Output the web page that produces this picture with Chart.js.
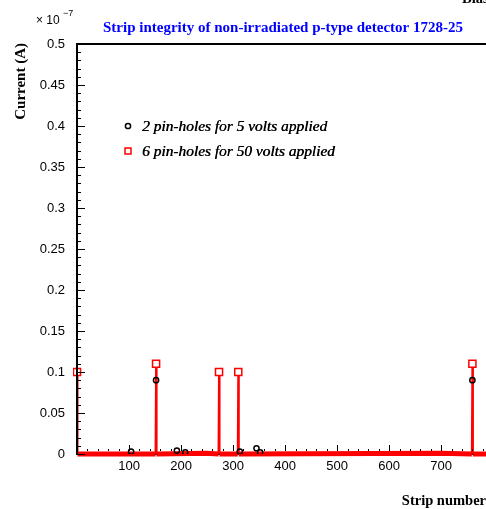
<!DOCTYPE html>
<html>
<head>
<meta charset="utf-8">
<script src="https://cdn.jsdelivr.net/npm/chart.js@4/dist/chart.umd.min.js"></script>
<style>
html,body{margin:0;padding:0;background:#fff;overflow:hidden;width:486px;height:509px;}
canvas{display:block;}
</style>
</head>
<body>
<canvas id="c" width="500" height="509"></canvas>
<script>
// ---- data (current in units of 1e-7 A) ----
const strips5V  = [104, 152, 192, 208, 313, 345, 352, 760];
const current5V = [0.003, 0.09, 0.004, 0.002, 0.003, 0.007, 0.002, 0.09];

const strips50V  = [0, 1, 151, 152, 153, 249, 272, 273, 274, 309, 310, 311, 699, 759, 760, 761, 790];
const current50V = [0.1, 0, 0, 0.11, 0, 0.001, 0, 0.1, 0, 0, 0.1, 0, 0.001, 0, 0.11, 0, 0];

const yTickValues = [0, 0.05, 0.1, 0.15, 0.2, 0.25, 0.3, 0.35, 0.4, 0.45, 0.5];
const yTickLabels = ['0', '0.05', '0.1', '0.15', '0.2', '0.25', '0.3', '0.35', '0.4', '0.45', '0.5'];
const xTickValues = [100, 200, 300, 400, 500, 600, 700];
const xTickLabels = ['100', '200', '300', '400', '500', '600', '700'];
const yMinorStep = 0.01;
const xMinorStep = 20;

const titleText = 'Strip integrity of non-irradiated p-type detector 1728-25';
const yTitle = 'Current (A)';
const xTitle = 'Strip number';
const legendLabels = ['2 pin-holes for 5 volts applied', '6 pin-holes for 50 volts applied'];

const toPts = (xs, ys) => xs.map((x, i) => ({x: x, y: ys[i]}));

const decor = {
  id: 'decor',
  afterDatasetsDraw(chart) {
    const ctx = chart.ctx, a = chart.chartArea;
    const xs = chart.scales.x, ys = chart.scales.y;
    ctx.save();
    // inner ticks
    ctx.strokeStyle = '#000';
    ctx.lineWidth = 1;
    for (let v = 0; v <= 0.5 + 1e-9; v += yMinorStep) {
      const p = Math.round(ys.getPixelForValue(v)) + 0.5;
      const major = yTickValues.some(t => Math.abs(t - v) < 1e-6);
      ctx.beginPath(); ctx.moveTo(a.left, p); ctx.lineTo(a.left + (major ? 8 : 4), p); ctx.stroke();
    }
    for (let v = xMinorStep; v <= xs.max; v += xMinorStep) {
      const p = Math.round(xs.getPixelForValue(v)) + 0.5;
      const major = xTickValues.includes(v);
      ctx.beginPath(); ctx.moveTo(p, a.bottom - 3); ctx.lineTo(p, a.bottom - (major ? 9 : 5)); ctx.stroke();
    }
    // frame
    ctx.lineWidth = 2;
    ctx.beginPath();
    ctx.moveTo(a.left, a.bottom); ctx.lineTo(a.left, a.top); ctx.lineTo(a.right, a.top); ctx.lineTo(a.right, a.bottom);
    ctx.stroke();
    // legend
    ctx.lineWidth = 1.5;
    ctx.strokeStyle = '#000';
    ctx.beginPath(); ctx.arc(128, 126, 2.6, 0, Math.PI * 2); ctx.stroke();
    ctx.strokeStyle = '#ff0000';
    ctx.fillStyle = '#fff';
    ctx.fillRect(125, 148, 6, 6); ctx.strokeRect(125, 148, 6, 6);
    ctx.fillStyle = '#000';
    ctx.font = 'italic 15.4px "Liberation Serif"';
    ctx.textBaseline = 'alphabetic';
    ctx.textAlign = 'left';
    ctx.fillText(legendLabels[0], 142, 131);
    ctx.fillText(legendLabels[1], 142, 156);
    ctx.fillText(legendLabels[0], 142.4, 131);
    ctx.fillText(legendLabels[1], 142.4, 156);
    // title
    ctx.fillStyle = '#0000ff';
    ctx.font = 'bold 15px "Liberation Serif"';
    ctx.textAlign = 'left';
    ctx.fillText(titleText, 103, 32);
    // top-right cut text
    ctx.fillStyle = '#000';
    ctx.font = 'bold 14.5px "Liberation Serif"';
    ctx.fillText('Bias voltage', 462, 3);
    // x title
    ctx.textAlign = 'right';
    ctx.fillText(xTitle, 486, 505);
    // y title rotated
    ctx.save();
    ctx.translate(25, 43);
    ctx.rotate(-Math.PI / 2);
    ctx.textAlign = 'right';
    ctx.font = 'bold 15px "Liberation Serif"';
    ctx.fillText(yTitle, 0, 0);
    ctx.restore();
    // exponent
    ctx.font = '12px "Liberation Sans"';
    ctx.textAlign = 'left';
    ctx.fillText('\u00d7 10', 36, 24);
    ctx.font = '9px "Liberation Sans"';
    ctx.fillText('\u22127', 63, 16);
    ctx.restore();
  }
};

new Chart(document.getElementById('c'), {
  type: 'scatter',
  data: {
    datasets: [
      {
        label: legendLabels[0],
        data: toPts(strips5V, current5V),
        showLine: false,
        pointStyle: 'circle',
        pointRadius: 2.6,
        pointBorderWidth: 1.5,
        pointBorderColor: '#000',
        pointBackgroundColor: 'rgba(0,0,0,0)',
        order: 0
      },
      {
        label: legendLabels[1],
        data: toPts(strips50V, current50V),
        showLine: true,
        clip: 4,
        borderColor: '#ff0000',
        borderWidth: 2,
        segment: {
          borderWidth: c => (c.p0.parsed.y < 0.02 && c.p1.parsed.y < 0.02) ? 5 : 2
        },
        pointStyle: 'rect',
        pointRadius: c => (c.raw && c.raw.y > 0.02) ? 5 : 0,
        pointBorderWidth: 1.5,
        pointBorderColor: '#ff0000',
        pointBackgroundColor: '#fff',
        order: 1
      }
    ]
  },
  options: {
    responsive: false,
    animation: false,
    events: [],
    layout: { padding: { left: 0, right: 12, top: 44, bottom: 0 } },
    plugins: { legend: { display: false }, title: { display: false }, tooltip: { enabled: false } },
    scales: {
      x: {
        type: 'linear', min: 0, max: 790,
        afterBuildTicks: s => { s.ticks = xTickValues.map(v => ({value: v})); },
        afterFit: s => { s.height = 55; },
        grid: { display: false, drawTicks: false },
        border: { display: true, color: '#000', width: 2 },
        ticks: {
          padding: 5, color: '#000', maxRotation: 0,
          font: { family: 'Liberation Sans', size: 13 },
          callback: (v) => { const i = xTickValues.indexOf(v); return i >= 0 ? xTickLabels[i] : ''; }
        }
      },
      y: {
        type: 'linear', min: 0, max: 0.5,
        afterBuildTicks: s => { s.ticks = yTickValues.map(v => ({value: v})); },
        afterFit: s => { s.width = 77; },
        grid: { display: false, drawTicks: false },
        border: { display: true, color: '#000', width: 2 },
        ticks: {
          padding: 12, color: '#000',
          font: { family: 'Liberation Sans', size: 13 },
          callback: (v) => { const i = yTickValues.findIndex(t => Math.abs(t - v) < 1e-9); return i >= 0 ? yTickLabels[i] : ''; }
        }
      }
    }
  },
  plugins: [decor]
});
</script>
</body>
</html>
